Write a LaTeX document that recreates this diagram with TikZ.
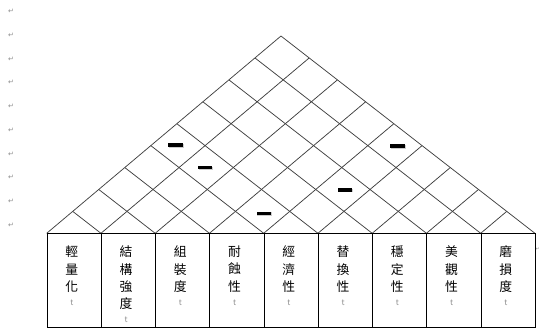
\documentclass[tikz,border=0pt]{standalone}
\usepackage{fontspec}
\usetikzlibrary{shadows}
\newfontfamily\cjkfont{Noto Sans CJK TC}
\newfontfamily\djvfont{DejaVu Sans}
\newcommand\cellendmark{\\[-3.5pt]{\fontsize{8}{8}\selectfont\color{black!45}t}}
\begin{document}
\begin{tikzpicture}[x=1pt,y=-1pt,
  gridline/.style={draw=black!75, line width=0.75pt},
  cellbox/.style={draw=black, line width=0.9pt, minimum width=54.25pt, minimum height=93.4pt, inner sep=0pt, anchor=north west},
  lbl/.style={font=\cjkfont\fontsize{12.8}{17.3}\selectfont, align=center, anchor=north, inner sep=0pt},
  minusbar/.style={fill=black, minimum width=14.5pt, minimum height=3.6pt, inner sep=0pt,
    drop shadow={shadow xshift=0.8pt, shadow yshift=-0.8pt, fill=black!25, opacity=0.8}},
  pmark/.style={font=\djvfont\fontsize{7}{7}\selectfont, text=black!45, inner sep=0pt}]
\useasboundingbox (0,0) rectangle (540,331);
% lattice points
\foreach \a in {0,...,9}{
  \foreach \b in {0,...,\a}{
    \coordinate (p\a-\b) at ({46.7+26.03*\a+28.22*\b},{233.3-21.92*\a+21.92*\b});
  }
}
% roof lattice
\foreach \b in {0,...,8}{ \draw[gridline] (p\b-\b) -- (p9-\b); }
\foreach \a in {1,...,9}{ \draw[gridline] (p\a-0) -- (p\a-\a); }
% column boxes
\foreach \k in {1,...,9}{
  \node[cellbox] (c\k) at ({46.7+54.25*(\k-1)},233.3) {};
}
% labels
\node[lbl] (t1) at ([xshift=-2.5pt,yshift=-12.5pt]c1.north) {輕\\量\\化\cellendmark};
\node[lbl] (t2) at ([xshift=-2.5pt,yshift=-12.5pt]c2.north) {結\\構\\強\\度\cellendmark};
\node[lbl] (t3) at ([xshift=-2.5pt,yshift=-12.5pt]c3.north) {組\\裝\\度\cellendmark};
\node[lbl] (t4) at ([xshift=-2.5pt,yshift=-12.5pt]c4.north) {耐\\蝕\\性\cellendmark};
\node[lbl] (t5) at ([xshift=-2.5pt,yshift=-12.5pt]c5.north) {經\\濟\\性\cellendmark};
\node[lbl] (t6) at ([xshift=-2.5pt,yshift=-12.5pt]c6.north) {替\\換\\性\cellendmark};
\node[lbl] (t7) at ([xshift=-2.5pt,yshift=-12.5pt]c7.north) {穩\\定\\性\cellendmark};
\node[lbl] (t8) at ([xshift=-2.5pt,yshift=-12.5pt]c8.north) {美\\觀\\性\cellendmark};
\node[lbl] (t9) at ([xshift=-2.5pt,yshift=-12.5pt]c9.north) {磨\\損\\度\cellendmark};
% minus signs
\node[minusbar] (m1) at (175.5,145.3) {};
\node[minusbar] (m2) at (205,167.7) {};
\node[minusbar] (m3) at (263.8,213.3) {};
\node[minusbar] (m4) at (344.8,189.7) {};
\node[minusbar] (m5) at (397.5,146) {};
% paragraph marks
\foreach \i in {0,...,9}{
  \node[pmark] (pm\i) at (11,{11.7+23.7*\i}) {↵};
}
\node[pmark, anchor=west, font=\djvfont\fontsize{4.5}{4.5}\selectfont] (pmr) at (535.6,249) {↵};
\end{tikzpicture}
\end{document}
